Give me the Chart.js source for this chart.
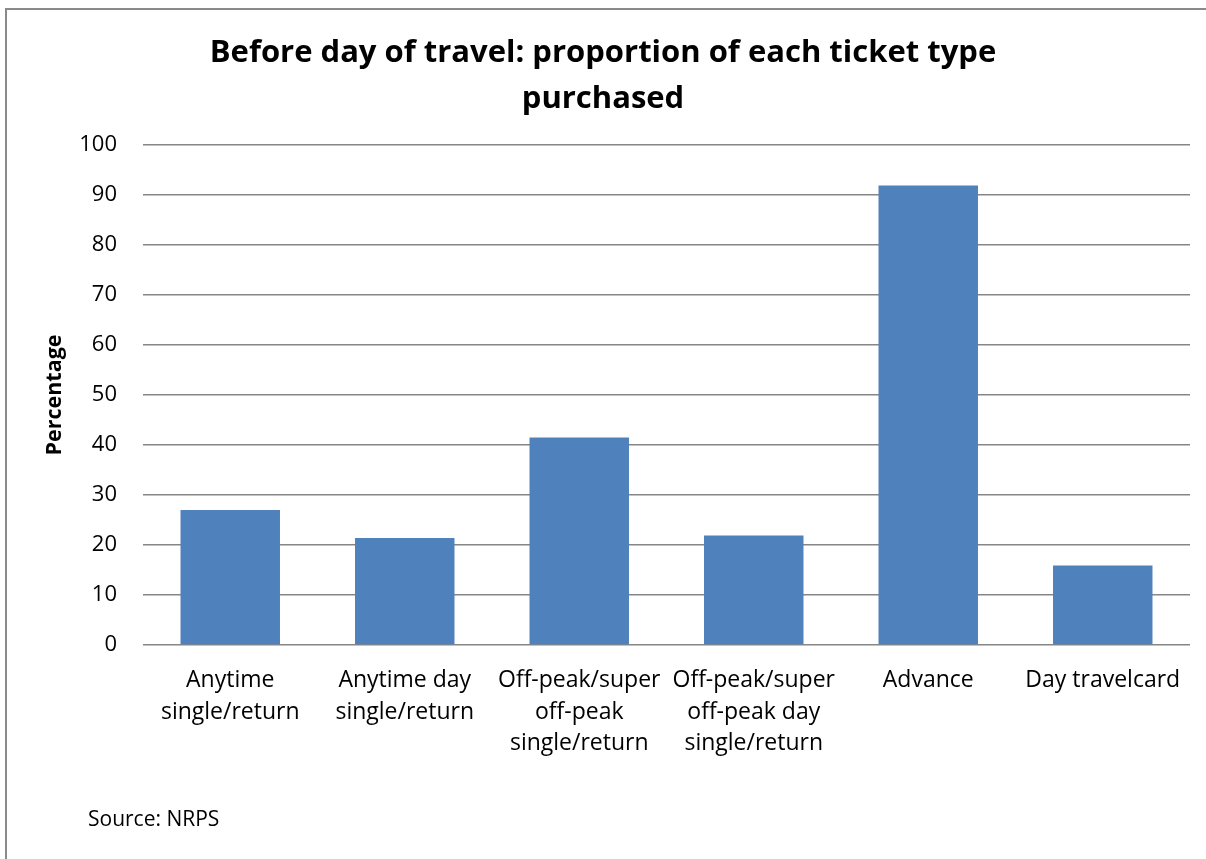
<!DOCTYPE html>
<html>
<head>
<meta charset="utf-8">
<script src="https://cdn.jsdelivr.net/npm/chart.js@4.4.1/dist/chart.umd.min.js"></script>
<style>
    html, body { margin: 0; padding: 0; background: #fff; overflow: hidden; }
    #wrap { position: relative; width: 1206px; height: 859px; }
    #frame {
        position: absolute; left: 5px; top: 8px; width: 1400px; height: 1000px;
        border-left: 2px solid #8a8a8a; border-top: 2px solid #8a8a8a;
    }
    #myChart { position: absolute; left: 0; top: 0; }
    #source {
        position: absolute; left: 88px; top: 804px;
        font-family: "Open Sans", sans-serif; font-size: 21px; color: #000;
    }
</style>
</head>
<body>
<div id="wrap">
    <div id="frame"></div>
    <canvas id="myChart" width="1206" height="859"></canvas>
    <div id="source">Source: NRPS</div>
</div>
<script>
const labels = [
    ['Anytime', 'single/return'],
    ['Anytime day', 'single/return'],
    ['Off-peak/super', 'off-peak', 'single/return'],
    ['Off-peak/super', 'off-peak day', 'single/return'],
    'Advance',
    'Day travelcard',
];

const percentages = [27, 21.4, 41.5, 21.9, 91.9, 15.9];

const yTicks = [0, 10, 20, 30, 40, 50, 60, 70, 80, 90, 100];

const titleLines = ['Before day of travel: proportion of each ticket type', 'purchased'];

const font = '"Open Sans", sans-serif';

const data = {
    labels: labels,
    datasets: [{
        label: 'Percentage',
        backgroundColor: '#4f81bd',
        borderWidth: 0,
        data: percentages,
        categoryPercentage: 1,
        barPercentage: 0.57,
    }]
};

const config = {
    type: 'bar',
    data: data,
    options: {
        responsive: false,
        animation: false,
        layout: {
            padding: { top: 30, left: 16, right: 16, bottom: 100 }
        },
        plugins: {
            legend: { display: false },
            tooltip: { enabled: false },
            title: {
                display: true,
                text: titleLines,
                color: '#000',
                font: { family: font, size: 31, weight: 'bold', lineHeight: 1.484 },
                padding: { top: 0, bottom: 23 }
            }
        },
        scales: {
            x: {
                grid: { display: false, drawTicks: false },
                border: { display: false },
                ticks: {
                    color: '#000',
                    font: { family: font, size: 23, lineHeight: 1.39 },
                    padding: 19,
                    maxRotation: 0,
                    autoSkip: false
                },
                afterFit: function (scale) {
                    scale.height = 859 - 100 - 645;
                }
            },
            y: {
                min: 0,
                max: 100,
                afterBuildTicks: function (scale) {
                    scale.ticks = yTicks.map(v => ({ value: v }));
                },
                grid: { color: '#868686', lineWidth: 1.5, drawTicks: false },
                border: { display: false },
                ticks: {
                    color: '#000',
                    font: { family: font, size: 22 },
                    padding: 26
                },
                title: {
                    display: true,
                    text: 'Percentage',
                    color: '#000',
                    font: { family: font, size: 21.5, weight: 'bold', lineHeight: 1.2 },
                    padding: { top: 26, bottom: 0 }
                },
                afterFit: function (scale) {
                    scale.width = 143 - 16;
                }
            }
        }
    }
};

var myChart = new Chart(document.getElementById('myChart'), config);
</script>
</body>
</html>
